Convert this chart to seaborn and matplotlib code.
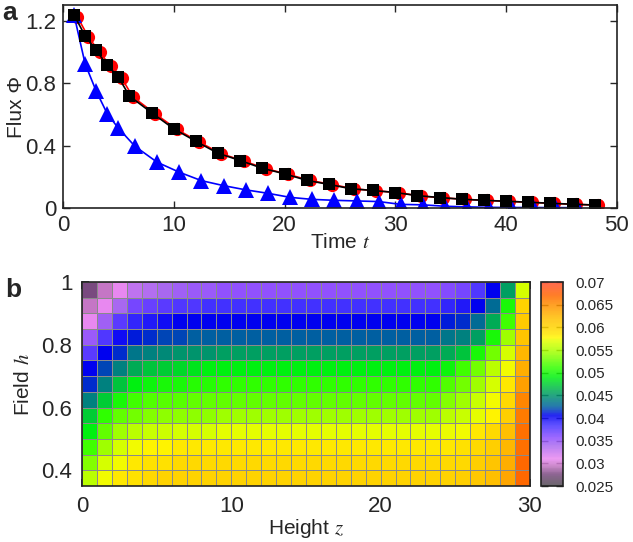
import matplotlib
matplotlib.use("Agg")
import matplotlib.pyplot as plt
import pandas as pd
import seaborn as sns
from matplotlib.colors import LinearSegmentedColormap

# Panel a: flux vs time (three runs)
time_black = [1, 2, 3, 4, 5, 6, 8, 10, 12, 14, 16, 18, 20, 22, 24, 26, 28, 30, 32, 34, 36, 38, 40, 42, 44, 46, 48]
flux_black = [1.237, 1.103, 1.01, 0.915, 0.84, 0.718, 0.611, 0.508, 0.428, 0.351, 0.305, 0.255, 0.22, 0.178,
              0.152, 0.124, 0.113, 0.1, 0.08, 0.068, 0.057, 0.05, 0.044, 0.038, 0.031, 0.025, 0.02]
time_red = [1.3, 2.3, 3.3, 4.3, 5.3, 6.3, 8.3, 10.3, 12.3, 14.3, 16.3, 18.3, 20.3, 22.3, 24.3, 26.3, 28.3,
            30.3, 32.3, 34.3, 36.3, 38.3, 40.3, 42.3, 44.3, 46.3, 48.3]
flux_red = [1.225, 1.095, 1.0, 0.908, 0.833, 0.713, 0.605, 0.504, 0.423, 0.348, 0.302, 0.253, 0.217, 0.177,
            0.151, 0.123, 0.111, 0.099, 0.077, 0.066, 0.056, 0.049, 0.043, 0.037, 0.03, 0.024, 0.019]
time_blue = [1, 2, 3, 4, 5, 6.5, 8.5, 10.5, 12.5, 14.5, 16.5, 18.5, 20.5, 22.5, 24.5, 26.5, 28.5, 30.5,
             32.5, 34.5, 36.5, 38.5, 40.5, 42.5, 44.5, 46.5]
flux_blue = [1.237, 0.924, 0.749, 0.604, 0.512, 0.396, 0.294, 0.23, 0.176, 0.144, 0.117, 0.095, 0.069, 0.056,
             0.05, 0.046, 0.042, 0.024, 0.021, 0.012, 0.008, 0.005, 0.004, 0.004, 0.003, 0.003]

# Panel b: flux map, rows from h = 1 (top) down to h = 0.35, columns z = 0..29
height_z = list(range(30))
field_h = [0.975, 0.925, 0.875, 0.825, 0.775, 0.725, 0.675, 0.625, 0.575, 0.525, 0.475, 0.425, 0.375]
flux_map = [
    [0.0275, 0.0295, 0.031, 0.033, 0.0335, 0.034, 0.0345, 0.035, 0.035, 0.0355,
     0.0355, 0.0355, 0.0355, 0.0355, 0.0355, 0.0355, 0.0355, 0.0355, 0.0355, 0.0355,
     0.0355, 0.0355, 0.0355, 0.0355, 0.036, 0.0365, 0.038, 0.0405, 0.0455, 0.0565],
    [0.0295, 0.031, 0.034, 0.0365, 0.037, 0.0375, 0.038, 0.038, 0.0385, 0.0385,
     0.0385, 0.0385, 0.0385, 0.0385, 0.0385, 0.0385, 0.0385, 0.0385, 0.0385, 0.0385,
     0.0385, 0.0385, 0.0385, 0.0385, 0.039, 0.0395, 0.0405, 0.043, 0.05, 0.06],
    [0.031, 0.0345, 0.0375, 0.039, 0.0395, 0.04, 0.0405, 0.0405, 0.0405, 0.0405,
     0.0405, 0.0405, 0.0405, 0.0405, 0.0405, 0.0405, 0.0405, 0.0405, 0.0405, 0.0405,
     0.0405, 0.0405, 0.0405, 0.0405, 0.041, 0.0415, 0.043, 0.046, 0.0515, 0.061],
    [0.035, 0.038, 0.04, 0.041, 0.0415, 0.042, 0.042, 0.0425, 0.0425, 0.0425,
     0.0425, 0.0425, 0.0425, 0.0425, 0.0425, 0.0425, 0.0425, 0.0425, 0.0425, 0.0425,
     0.0425, 0.0425, 0.0425, 0.0425, 0.0435, 0.044, 0.0455, 0.05, 0.0545, 0.0615],
    [0.0375, 0.0405, 0.0415, 0.0435, 0.044, 0.0445, 0.045, 0.045, 0.045, 0.0455,
     0.0455, 0.0455, 0.0455, 0.0455, 0.0455, 0.0455, 0.0455, 0.0455, 0.0455, 0.0455,
     0.0455, 0.0455, 0.0455, 0.0455, 0.046, 0.047, 0.05, 0.053, 0.0565, 0.0625],
    [0.0405, 0.042, 0.044, 0.046, 0.047, 0.0475, 0.048, 0.0485, 0.049, 0.049,
     0.049, 0.049, 0.049, 0.049, 0.049, 0.049, 0.049, 0.049, 0.049, 0.049,
     0.049, 0.049, 0.049, 0.049, 0.0495, 0.0515, 0.053, 0.0555, 0.0575, 0.063],
    [0.0415, 0.044, 0.047, 0.049, 0.0495, 0.05, 0.05, 0.0505, 0.0505, 0.051,
     0.051, 0.051, 0.051, 0.051, 0.051, 0.051, 0.051, 0.051, 0.051, 0.051,
     0.051, 0.051, 0.051, 0.051, 0.052, 0.053, 0.0545, 0.0565, 0.0585, 0.064],
    [0.044, 0.0475, 0.05, 0.0515, 0.052, 0.0522, 0.0522, 0.0525, 0.0525, 0.0525,
     0.0525, 0.0525, 0.0525, 0.0525, 0.0525, 0.0525, 0.0525, 0.0525, 0.0525, 0.0525,
     0.0525, 0.0525, 0.0525, 0.0525, 0.0535, 0.0545, 0.056, 0.0575, 0.0595, 0.0655],
    [0.0475, 0.051, 0.0525, 0.053, 0.0535, 0.054, 0.054, 0.054, 0.054, 0.0545,
     0.0545, 0.0545, 0.0545, 0.0545, 0.0545, 0.0545, 0.0545, 0.0545, 0.0545, 0.0545,
     0.0545, 0.0545, 0.0545, 0.0545, 0.0555, 0.056, 0.057, 0.058, 0.0605, 0.066],
    [0.049, 0.0525, 0.0545, 0.0555, 0.056, 0.0562, 0.0565, 0.0565, 0.0565, 0.057,
     0.057, 0.057, 0.057, 0.057, 0.057, 0.057, 0.057, 0.057, 0.057, 0.057,
     0.057, 0.057, 0.057, 0.057, 0.0572, 0.0575, 0.0585, 0.0595, 0.062, 0.0665],
    [0.0515, 0.0545, 0.0565, 0.0575, 0.058, 0.058, 0.0585, 0.0585, 0.0585, 0.0585,
     0.0585, 0.0585, 0.0585, 0.0585, 0.0585, 0.0585, 0.0585, 0.0585, 0.0585, 0.0585,
     0.0585, 0.0585, 0.0585, 0.0585, 0.0585, 0.059, 0.0595, 0.0605, 0.0625, 0.0665],
    [0.0535, 0.0565, 0.0575, 0.0585, 0.059, 0.059, 0.0595, 0.0595, 0.0595, 0.0595,
     0.0595, 0.0595, 0.0595, 0.0595, 0.0595, 0.0595, 0.0595, 0.0595, 0.0595, 0.0595,
     0.0595, 0.0595, 0.0595, 0.0595, 0.0595, 0.0595, 0.0605, 0.0615, 0.063, 0.067],
    [0.0555, 0.0575, 0.0585, 0.059, 0.0595, 0.06, 0.06, 0.06, 0.06, 0.06,
     0.06, 0.06, 0.06, 0.06, 0.06, 0.06, 0.06, 0.06, 0.06, 0.06,
     0.06, 0.06, 0.06, 0.06, 0.06, 0.0605, 0.0612, 0.062, 0.0635, 0.067],
]
cbar_ticks = [0.025, 0.03, 0.035, 0.04, 0.045, 0.05, 0.055, 0.06, 0.065, 0.07]
cbar_labels = ['0.025', '0.03', '0.035', '0.04', '0.045', '0.05', '0.055', '0.06', '0.065', '0.07']

# colour palette (gnuplot-like rainbow)
vmin, vmax = 0.025, 0.07
anchors = [(0.025, '#4f4a50'), (0.0275, '#7a4a80'), (0.0295, '#c878c8'), (0.031, '#e888f0'),
           (0.034, '#a868f0'), (0.0355, '#9050ff'), (0.0385, '#4030ff'), (0.0405, '#0000f0'),
           (0.0425, '#0060a0'), (0.0455, '#00a060'), (0.049, '#00f010'), (0.051, '#30ff00'),
           (0.0525, '#60ff00'), (0.0545, '#a0ff00'), (0.057, '#e0ff00'), (0.0578, '#fff800'),
           (0.0585, '#ffe800'), (0.06, '#ffd400'), (0.062, '#ffc000'), (0.0635, '#ffa800'),
           (0.0655, '#ff8800'), (0.067, '#ff6800'), (0.07, '#ff5030')]
cmap = LinearSegmentedColormap.from_list('flux', [((v - vmin) / (vmax - vmin), c) for v, c in anchors])

sns.set_style("ticks")
plt.rcParams['font.family'] = ['Liberation Sans', 'DejaVu Sans']
plt.rcParams['mathtext.fontset'] = 'stix'

fig = plt.figure(figsize=(6.33, 5.42), dpi=100)

# ---- panel a
ax1 = fig.add_axes([0.0995, 0.616, 0.875, 0.3745])
sns.lineplot(x=time_red, y=flux_red, color='red', marker='o', markersize=9.5, markeredgewidth=0,
             linewidth=1.2, ax=ax1)
sns.lineplot(x=time_blue, y=flux_blue, color='#0000ff', marker='^', markersize=11, markeredgewidth=0,
             linewidth=1.2, ax=ax1)
sns.lineplot(x=time_black, y=flux_black, color='black', marker='s', markersize=9, markeredgewidth=0,
             linewidth=1.2, ax=ax1)
ax1.set_xlim(0, 50)
ax1.set_ylim(0, 1.3)
ax1.set_xticks([0, 10, 20, 30, 40, 50])
ax1.set_yticks([0, 0.4, 0.8, 1.2])
ax1.set_yticklabels(['0', '0.4', '0.8', '1.2'])
ax1.tick_params(direction='in', top=True, right=True, length=5, width=1, labelsize=16, pad=5)
ax1.set_xlabel('Time $t$', fontsize=15, labelpad=-2)
ax1.set_ylabel('Flux Φ', fontsize=15, labelpad=-1)
for s in ax1.spines.values():
    s.set_linewidth(1.2)
    s.set_color('#222222')

# ---- panel b
df_map = pd.DataFrame(flux_map, index=field_h, columns=height_z)
ax2 = fig.add_axes([0.1295, 0.1033, 0.7077, 0.3764])
cax = fig.add_axes([0.854, 0.1033, 0.036, 0.3764])
sns.heatmap(df_map, ax=ax2, cmap=cmap, vmin=vmin, vmax=vmax, linewidths=0.5, linecolor='#8a8a8a',
            cbar_ax=cax, xticklabels=False, yticklabels=False)
ax2.set_xticks([0, 10, 20, 30])
ax2.set_xticklabels(['0', '10', '20', '30'], rotation=0)
ax2.set_yticks([0, 4, 8, 12])
ax2.set_yticklabels(['1', '0.8', '0.6', '0.4'], rotation=0)
ax2.tick_params(direction='in', top=True, right=True, bottom=True, left=True, length=5, width=1.2,
                labelsize=16, pad=7)
ax2.set_xlabel('Height $z$', fontsize=15, labelpad=0)
ax2.set_ylabel('Field $h$', fontsize=15, labelpad=6)
for s in ax2.spines.values():
    s.set_visible(True)
    s.set_linewidth(1.2)
    s.set_color('#222222')

cbar = ax2.collections[0].colorbar
cbar.set_ticks(cbar_ticks)
cbar.set_ticklabels(cbar_labels)
cbar.solids.set_alpha(0.85)
cbar.outline.set_linewidth(1.2)
cbar.outline.set_edgecolor('#222222')
cax.tick_params(axis='y', direction='in', left=True, right=True, labelleft=False, labelright=True,
                length=5, width=1, labelsize=11, pad=9)

fig.text(0.004, 0.998, 'a', fontsize=19, fontweight='bold', va='top', ha='left')
fig.text(0.008, 0.488, 'b', fontsize=19, fontweight='bold', va='top', ha='left')

fig.savefig('out.png', dpi=100)
